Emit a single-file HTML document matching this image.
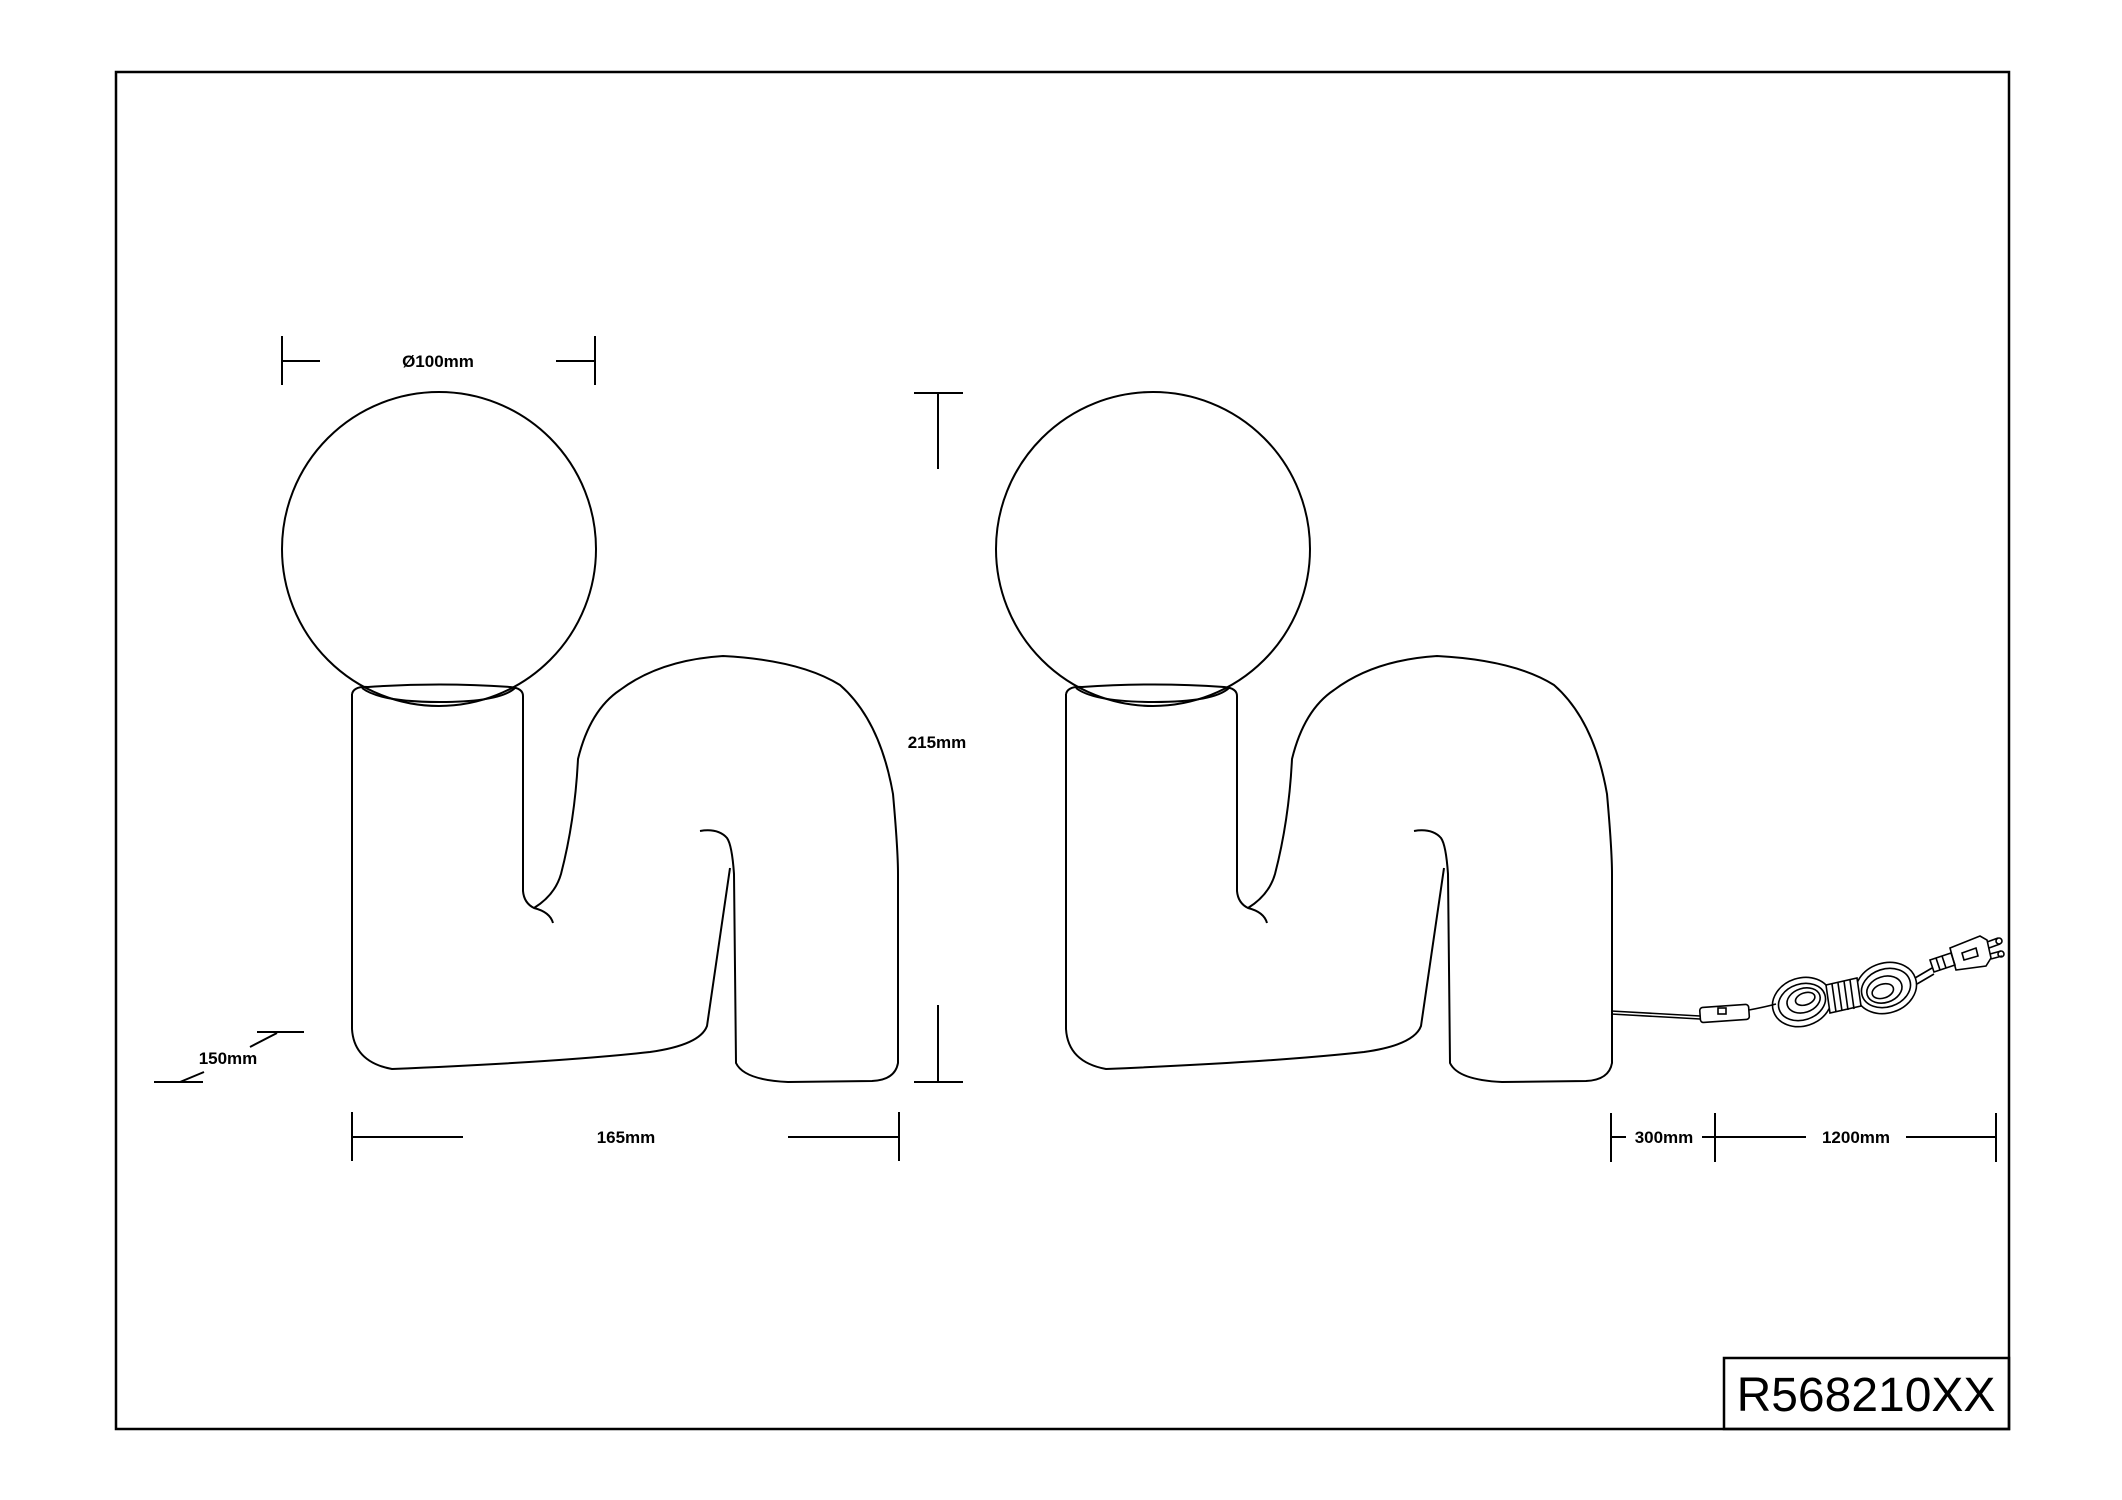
<!DOCTYPE html>
<html><head><meta charset="utf-8"><style>
html,body{margin:0;padding:0;background:#fff;}
svg{display:block;}
text{font-family:"Liberation Sans",Arial,sans-serif;fill:#000;}
</style></head><body>
<svg width="2122" height="1500" viewBox="0 0 2122 1500" xmlns="http://www.w3.org/2000/svg">
<rect x="0" y="0" width="2122" height="1500" fill="#fff"/>
<rect x="116" y="72" width="1893" height="1357" fill="none" stroke="#000" stroke-width="2.5"/>
<rect x="1724" y="1358" width="285" height="71" fill="none" stroke="#000" stroke-width="2.5"/>
<text x="1866" y="1411" font-size="48" text-anchor="middle">R568210XX</text>

<g id="lamp" fill="none" stroke="#000" stroke-width="2">
  <circle cx="439" cy="549" r="157"/>
  <path d="M352,694 Q354,686 368,687 Q440,682 510,687 Q523,688 523,696"/>
  <path d="M362,688 Q380,702 440,702 Q500,702 515,688"/>
  <path d="M352,694 L352,1029 Q354,1062 392,1069 Q560,1062 650,1052 Q700,1045 707,1026 L730,868"/>
  <path d="M523,696 L523,891 Q524,903 534,908 Q550,912 553,923"/>
  <path d="M534,908 Q555,895 561,874 Q575,820 578,759 Q590,710 620,690 Q660,660 723,656 Q800,660 840,685 Q880,720 893,794 Q898,850 898,874 L898,1063 Q895,1080 872,1081 L788,1082 Q744,1080 736,1063 L734,874 Q732,845 727,838 Q718,828 700,831"/>
</g>
<use href="#lamp" transform="translate(714,0)"/>

<!-- cord -->
<g fill="none" stroke="#000" stroke-width="1.6">
  <path d="M1611,1011 Q1650,1013 1700,1016"/>
  <path d="M1611,1014 Q1650,1016 1700,1019"/>
  <rect x="1700" y="1006" width="49" height="15" rx="3" transform="rotate(-4 1724 1013)"/>
  <rect x="1718" y="1008" width="8" height="6"/>
  <path d="M1749,1010 Q1765,1007 1776,1004"/>
  <g transform="rotate(-18 1802 1002)">
    <ellipse cx="1802" cy="1002" rx="30" ry="24"/>
    <ellipse cx="1802" cy="1002" rx="24" ry="18"/>
    <ellipse cx="1804" cy="1001" rx="17" ry="12"/>
    <ellipse cx="1806" cy="1000" rx="10" ry="6"/>
  </g>
  <g transform="rotate(-18 1886 988)">
    <ellipse cx="1886" cy="988" rx="31" ry="25"/>
    <ellipse cx="1886" cy="988" rx="25" ry="19"/>
    <ellipse cx="1884" cy="989" rx="18" ry="13"/>
    <ellipse cx="1882" cy="990" rx="11" ry="7"/>
  </g>
  <path d="M1826,985 L1857,978 L1861,1006 L1830,1013 Z" fill="#fff"/>
  <path d="M1832,984 L1836,1012 M1838,983 L1842,1011 M1844,981 L1848,1010 M1850,980 L1854,1009"/>
  <path d="M1915,978 L1932,968 M1917,984 L1934,974"/>
  <path d="M1930,960 L1951,953 L1955,965 L1934,972 Z"/>
  <path d="M1936,958 L1940,970 M1942,956 L1946,968"/>
  <path d="M1950,948 L1980,936 L1987,940 L1991,958 L1986,966 L1956,970 Z"/>
  <path d="M1962,953 L1976,948 L1978,956 L1964,960 Z"/>
  <path d="M1987,942 L1998,938 M1989,948 L2000,944 M1990,954 L2001,951 M1991,959 L2002,956"/>
  <circle cx="1999" cy="941" r="3"/>
  <circle cx="2001" cy="954" r="3"/>
</g>

<!-- dimensions -->
<g fill="none" stroke="#000" stroke-width="2">
  <path d="M282,336 V385 M595,336 V385 M282,361 H320 M556,361 H595"/>
  <path d="M914,393 H963 M938,393 V469 M914,1082 H963 M938,1005 V1082"/>
  <path d="M352,1112 V1161 M899,1112 V1161 M352,1137 H463 M788,1137 H899"/>
  <path d="M257,1032 H304 M277,1033 L250,1047 M204,1072 L180,1082 M154,1082 H203"/>
  <path d="M1611,1113 V1162 M1715,1113 V1162 M1996,1113 V1162 M1611,1137 H1626 M1702,1137 H1806 M1906,1137 H1996"/>
</g>
<g font-size="17" font-weight="bold">
  <text x="438" y="367" text-anchor="middle">Ø100mm</text>
  <text x="937" y="748" text-anchor="middle">215mm</text>
  <text x="626" y="1143" text-anchor="middle">165mm</text>
  <text x="228" y="1064" text-anchor="middle">150mm</text>
  <text x="1664" y="1143" text-anchor="middle">300mm</text>
  <text x="1856" y="1143" text-anchor="middle">1200mm</text>
</g>
</svg>
</body></html>
